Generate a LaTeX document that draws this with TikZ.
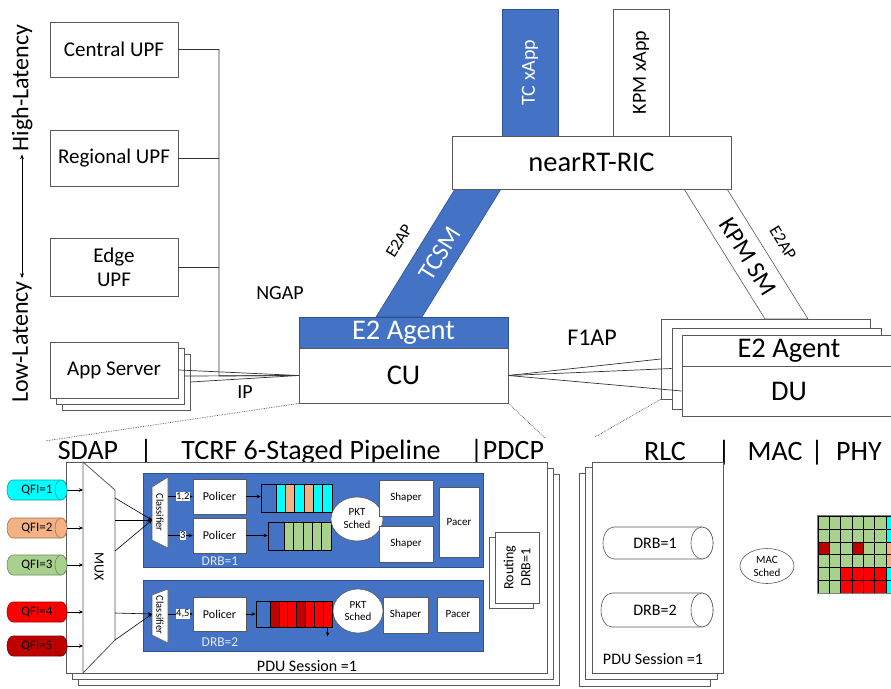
\documentclass[tikz,border=0pt]{standalone}
\usepackage{fontspec}
\setmainfont{Carlito}
\usetikzlibrary{arrows.meta,positioning,calc,shapes.geometric}
\definecolor{oblue}{HTML}{4472C4}
\definecolor{oblueline}{HTML}{2F528F}
\definecolor{edge}{HTML}{595959}
\definecolor{qcyan}{HTML}{00FFFF}
\definecolor{qpeach}{HTML}{F4B183}
\definecolor{qgreen}{HTML}{A9D18E}
\definecolor{qred}{HTML}{FF0000}
\definecolor{qdred}{HTML}{C00000}
\definecolor{rbg}{HTML}{A9D18E}
\definecolor{rbc}{HTML}{00FFFF}
\definecolor{rbp}{HTML}{F4B183}
\definecolor{rbr}{HTML}{FF0000}
\definecolor{rbd}{HTML}{C00000}
% lying cylinder: style, left x, right cap centre x, centre y, radius, cap radius
\newcommand{\hcyl}[6]{%
  \path[#1] (#3,#4-#5) -- (#2+#6,#4-#5)
    arc[start angle=270,end angle=90,x radius=#6,y radius=#5]
    -- (#3,#4+#5) arc[start angle=90,end angle=-90,x radius=#6,y radius=#5] -- cycle;
  \path[#1] (#3,#4) ellipse[x radius=#6,y radius=#5];}
\tikzset{
  netbox/.style={draw=edge,fill=white,line width=0.8pt,align=center,inner sep=1pt,
    font=\fontsize{21}{24}\selectfont},
  bigfont/.style={font=\fontsize{28.5}{32}\selectfont},
  appfont/.style={font=\fontsize{20}{23}\selectfont},
  bluefill/.style={fill=oblue,draw=oblueline,text=white},
  shapeline/.style={draw=edge,fill=white,line width=0.8pt},
  panel/.style={draw=oblueline,fill=oblue,line width=0.8pt,minimum width=340pt},
  pbox/.style={draw=edge,fill=white,line width=0.6pt,align=center,inner sep=0.5pt,
    font=\fontsize{11}{13}\selectfont},
  sched/.style={pbox,ellipse,inner sep=0pt},
  cell/.style={draw=black,line width=0.5pt,inner sep=0pt},
  qfibody/.style={fill=#1,draw=#1!65!black,line width=0.6pt},
  qfitxt/.style={minimum width=60pt,minimum height=20pt,inner sep=0pt,xshift=-2pt,
    font=\fontsize{13}{15}\selectfont},
  pipebody/.style={fill=white,draw=edge,line width=0.6pt},
  pipetxt/.style={minimum height=32pt,inner sep=0pt,font=\fontsize{16}{18}\selectfont},
  rbcell/.style={cell,minimum width=11.3pt,minimum height=12.9pt,fill=rb#1},
  hdr/.style={anchor=base,inner sep=0pt,font=\fontsize{28}{32}\selectfont},
  lat/.style={inner sep=3pt,font=\fontsize{24}{28}\selectfont},
  proto/.style={inner sep=0pt,font=\fontsize{20}{23}\selectfont},
  bandtxt/.style={inner sep=0pt,font=\fontsize{25}{28}\selectfont},
  e2ap/.style={inner sep=0pt,font=\fontsize{17}{20}\selectfont},
  tag/.style={fill=white,inner sep=0.6pt,font=\fontsize{10.5}{12}\selectfont},
  drblbl/.style={text=white!85!oblue,inner sep=0pt,font=\fontsize{13.5}{15}\selectfont},
  pdulbl/.style={inner sep=0pt,font=\fontsize{16}{18}\selectfont},
  wire/.style={draw=black!80,line width=0.7pt},
  arr/.style={-{Stealth[length=4pt,width=3.5pt]},draw=black,line width=0.6pt},
  latarrow/.style={{Stealth[length=5pt,width=4pt]}-{Stealth[length=5pt,width=4pt]},line width=0.7pt},
  dotline/.style={densely dotted,line width=0.7pt,draw=black!70}
}
\begin{document}
\begin{tikzpicture}[x=1pt,y=-1pt]
\path[use as bounding box,fill=white] (0,0) rectangle (891,688);

% core side
\node[netbox,minimum width=128pt,minimum height=55pt] (cupf) at (114,49.5) {Central UPF};
\node[netbox,minimum width=128pt,minimum height=56pt] (rupf) at (114,158) {Regional UPF};
\node[netbox,minimum width=128pt,minimum height=58pt] (eupf) at (114,267) {Edge\\UPF};
\node[netbox,minimum width=128pt,minimum height=56pt] (app3) at (126,382) {};
\node[netbox,minimum width=128pt,minimum height=56pt] (app2) at (120,376) {};
\node[netbox,minimum width=128pt,minimum height=56pt] (app) at (114,370) {App Server};
\node[lat,rotate=90] (hilat) at (22,88) {High-Latency};
\node[lat,rotate=90] (lolat) at (22,342) {Low-Latency};
\draw[latarrow] (hilat.west) -- (lolat.east);

% E2 bands
\fill[oblue,draw=oblueline,line width=0.6pt] (455,189) -- (501,189) -- (422,317) -- (376,317) -- cycle;
\filldraw[fill=white,draw=edge,line width=0.6pt] (684,189) -- (727,189) -- (808,319) -- (765,319) -- cycle;

% RIC
\node[netbox,bluefill,appfont,rotate=90,minimum width=127pt,minimum height=56pt] (tcx) at (530,72.5) {TC xApp};
\node[netbox,appfont,rotate=90,minimum width=127pt,minimum height=56pt] (kpmx) at (641,72.5) {KPM xApp};
\node[netbox,bigfont,minimum width=279pt,minimum height=53pt] (ric) at (591.5,162.5) {nearRT-RIC};
\node[bandtxt,text=white,rotate=58] (tcsm) at (440,254) {TCSM};
\node[e2ap,rotate=58] (e2apl) at (399,241) {E2AP};
\node[bandtxt,rotate=-58] (kpmsm) at (748,257) {KPM SM};
\node[e2ap,rotate=-58] (e2apr) at (783,243) {E2AP};

% CU and DU
\node[netbox,bigfont,bluefill,minimum width=209pt,minimum height=31pt] (cue2) at (403.5,332.5) {E2 Agent};
\node[netbox,bigfont,minimum width=209pt,minimum height=55pt] (cu) at (403.5,375.5) {CU};
\node[netbox,minimum width=209pt,minimum height=80pt] (duback) at (765.5,359) {};
\node[netbox,minimum width=209pt,minimum height=81pt] (dumid) at (776.5,368.5) {};
\node[netbox,bigfont,minimum width=214pt,minimum height=31pt] (due2) at (789,350.5) {E2 Agent};
\node[netbox,bigfont,minimum width=214pt,minimum height=50pt] (du) at (789,391) {DU};

\coordinate (bus) at (219,376);
\draw[wire] (cupf.east) -| (bus) -- (cu.west);
\draw[wire] (rupf.east) -- (rupf.east -| bus);
\draw[wire] (eupf.east) -- (eupf.east -| bus);
\foreach \s in {app,app2,app3} \draw[wire] (\s.east) -- (cu.west);
\foreach \d in {duback,dumid,du} \draw[wire] (cu.east) -- (\d.west);
\node[proto] (ngap) at (280,293) {NGAP};
\node[proto] (ip) at (245,392) {IP};
\node[proto,font=\fontsize{24}{28}\selectfont] (f1ap) at (592,338) {F1AP};

\coordinate (sdapcorner) at (45,441);
\coordinate (pdcpcorner) at (545,438);
\coordinate (rlccorner) at (595,437);
\draw[dotline] (cu.south west) -- (sdapcorner);
\draw[dotline] (cu.south east) -- (pdcpcorner);
\draw[dotline] (duback.south west) -- (rlccorner);

% layer headers
\node[hdr] (sdap) at (88,459) {SDAP};
\node[hdr] (bar1) at (146,459) {|};
\node[hdr] (tcrf) at (311,459) {TCRF 6-Staged Pipeline};
\node[hdr] (pdcph) at (507,459) {|PDCP};
\node[hdr] (rlch) at (665,460) {RLC};
\node[hdr] (bar2) at (724,460) {|};
\node[hdr] (mach) at (775,460) {MAC};
\node[hdr] (bar3) at (817,460) {|};
\node[hdr] (phyh) at (859,460) {PHY};

% PDCP / pipeline
\node[netbox,minimum width=481pt,minimum height=211pt] (pdcp3) at (318.5,579.5) {};
\node[netbox,minimum width=481pt,minimum height=211pt] (pdcp2) at (312.5,573.5) {};
\node[netbox,minimum width=481pt,minimum height=211pt] (pdcp) at (306.5,567.5) {};
\draw[shapeline] (83,462) -- (115,490) -- (115,640) -- (83,673) -- cycle;
\node[rotate=-90,inner sep=0pt,font=\fontsize{14}{16}\selectfont] (mux) at (99,567) {MUX};
\coordinate (muxw) at (83,567);

\node[panel,minimum height=94pt] (drb1) at (313,520) {};
\node[panel,minimum height=71pt] (drb2) at (313,615.5) {};
\node[drblbl] (drb1lbl) at (220,561) {DRB=1};
\node[drblbl] (drb2lbl) at (220,642) {DRB=2};

\draw[shapeline,line width=0.6pt] (152,487) -- (168,477) -- (168,548) -- (152,540) -- cycle;
\draw[shapeline,line width=0.6pt] (152,595) -- (168,589) -- (168,643) -- (152,635) -- cycle;
\node[rotate=-90,inner sep=0pt,font=\fontsize{10.5}{12}\selectfont] (cls1) at (160,512.5) {Classifier};
\node[rotate=-90,inner sep=0pt,font=\fontsize{10.5}{12}\selectfont] (cls2) at (160,615) {Classifier};
\coordinate (cls1w) at (152,520);
\coordinate (cls2w) at (152,614);
\coordinate (cls1e) at (168,512);
\coordinate (cls2e) at (168,615);

\foreach \y [count=\i] in {498,520,551} {
  \coordinate (mo\i) at (115,\y);
  \draw[arr] (mo\i) -- (cls1w);
}
\foreach \y [count=\i] in {613,640} {
  \coordinate (mt\i) at (115,\y);
  \draw[arr] (mt\i) -- (cls2w);
}

\node[pbox,minimum width=53pt,minimum height=35pt,font=\fontsize{12}{14}\selectfont] (pol1) at (219.5,496.5) {Policer};
\node[pbox,minimum width=53pt,minimum height=35pt,font=\fontsize{12}{14}\selectfont] (pol2) at (219.5,535.5) {Policer};
\node[pbox,minimum width=53pt,minimum height=34pt,font=\fontsize{12}{14}\selectfont] (pol3) at (219.5,614) {Policer};
\draw[arr] (pol1.west -| cls1e) -- node[tag,pos=0.6] {1,2} (pol1.west);
\draw[arr] (pol2.west -| cls1e) -- node[tag,pos=0.6] {3} (pol2.west);
\draw[arr] (pol3.west -| cls2e) -- node[tag,pos=0.6] {4,5} (pol3.west);

% queues
\node[cell,fill=oblue,minimum width=15pt,minimum height=28pt] (qa0) at (268.5,498) {};
\foreach \qc [count=\i] in {qcyan,qpeach,qcyan,qpeach,qcyan,qcyan}
  \node[cell,fill=\qc,minimum width=9.33pt,minimum height=28pt] (qa\i) at ({276+9.33*(\i-0.5)},498) {};
\node[cell,fill=oblue,minimum width=16pt,minimum height=28pt] (qb0) at (276,536) {};
\foreach \i in {1,...,5}
  \node[cell,fill=qgreen,minimum width=9.4pt,minimum height=28pt] (qb\i) at ({284+9.4*(\i-0.5)},536) {};
\node[cell,fill=oblue,minimum width=14pt,minimum height=26pt] (qc0) at (263,614) {};
\foreach \qc [count=\i] in {qdred,qred,qred,qdred,qred,qred,qred}
  \node[cell,fill=\qc,minimum width=8.86pt,minimum height=26pt] (qc\i) at ({270+8.86*(\i-0.5)},614) {};
\draw[arr] (pol1.east) -- (pol1.east -| qa0.west);
\draw[arr] (pol2.east) -- (pol2.east -| qb0.west);
\draw[arr] (pol3.east) -- (pol3.east -| qc0.west);
\draw[arr] (qc7.south) -- ++(0,9);

\node[sched,minimum width=52pt,minimum height=44pt] (ps1) at (357,519) {PKT\\Sched};
\node[sched,minimum width=50pt,minimum height=44pt] (ps2) at (358,611) {PKT\\Sched};
\node[pbox,minimum width=54pt,minimum height=36pt] (sh1) at (406,498) {Shaper};
\node[pbox,minimum width=54pt,minimum height=36pt] (sh2) at (406,544) {Shaper};
\node[pbox,minimum width=45pt,minimum height=36pt] (sh3) at (405.5,615) {Shaper};
\node[pbox,minimum width=40pt,minimum height=70pt] (pc1) at (459,522) {Pacer};
\node[pbox,minimum width=42pt,minimum height=35pt] (pc2) at (458,614.5) {Pacer};
\node[pbox,rotate=90,minimum width=71pt,minimum height=44pt] (rt2) at (511,572.5) {};
\node[pbox,rotate=90,minimum width=71pt,minimum height=44pt,font=\fontsize{14}{17}\selectfont] (rt) at (517,567.5) {Routing\\DRB=1};
\node[pdulbl] (pdu1) at (307,666) {PDU Session =1};

\foreach \qn/\y/\qc in {1/490/qcyan,2/528/qpeach,3/565/qgreen,4/612/qred,5/646/qdred} {
  \hcyl{qfibody=\qc}{7}{61}{\y}{10}{6}
  \node[qfitxt] (qfi\qn) at (39,\y) {QFI=\qn};
  \draw[arr] (qfi\qn.east) -- (qfi\qn.east -| muxw);
}

% RLC / MAC / PHY
\node[netbox,minimum width=131pt,minimum height=213pt] (rlc3) at (644.5,579.5) {};
\node[netbox,minimum width=132pt,minimum height=212pt] (rlc2) at (651,573) {};
\node[netbox,minimum width=131pt,minimum height=211pt] (rlc) at (657.5,567.5) {};
\hcyl{pipebody}{603}{702}{543}{16}{11}
\hcyl{pipebody}{601}{702}{610}{17}{11}
\node[pipetxt] (rdrb1) at (655,543) {DRB=1};
\node[pipetxt] (rdrb2) at (655,610) {DRB=2};
\node[pdulbl] (pdu2) at (653,659) {PDU Session =1};
\node[sched,minimum width=54pt,minimum height=35pt] (macs) at (767,566) {MAC\\Sched};

\foreach \gr/\cols in {1/{g,g,g,g,g,g,c},2/{g,g,g,g,g,g,c},3/{d,g,g,d,g,g,p},4/{g,g,g,g,g,g,p},5/{g,g,r,r,r,r,c},6/{g,g,r,r,r,r,c}}
  \foreach \k [count=\gc] in \cols
    \node[rbcell=\k] (rb\gr\gc) at ({818+11.3*(\gc-0.5)},{516+12.9*(\gr-0.5)}) {};
\draw[draw=gray,line width=1pt] (rb11.north west) rectangle (rb67.south east);
\end{tikzpicture}
\end{document}
